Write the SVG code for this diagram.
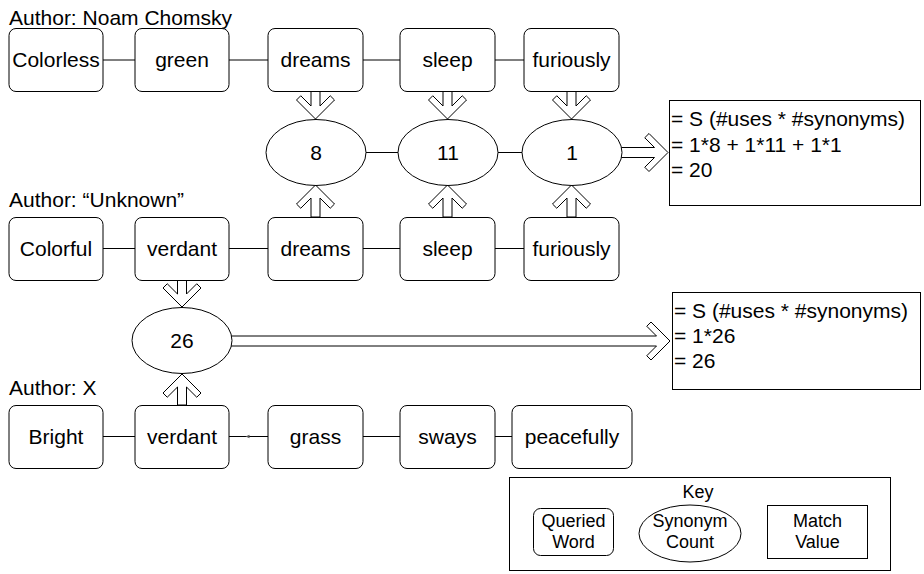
<svg xmlns="http://www.w3.org/2000/svg" width="924" height="574" viewBox="0 0 924 574">
  <style>
    text { font-family: "Liberation Sans", Arial, Helvetica, sans-serif; fill: #000; }
    .w { font-size: 21px; text-anchor: middle; }
    .lbl { font-size: 21px; }
    .k { font-size: 18px; text-anchor: middle; }
    .box { fill: #fff; stroke: #000; stroke-width: 1; }
    .ell { fill: #fff; stroke: #000; stroke-width: 1; }
    .line { stroke: #000; stroke-width: 1; fill: none; }
    .flex { fill: #fff; stroke: #000; stroke-width: 1; stroke-linejoin: miter; }
  </style>

  <!-- author captions -->
  <text class="lbl" x="9" y="25">Author: Noam Chomsky</text>
  <text class="lbl" x="9" y="207">Author: “Unknown”</text>
  <text class="lbl" x="9" y="395">Author: X</text>

  <g id="connectors">
    <!-- sentence 1 -->
    <line class="line" x1="103" y1="60" x2="135" y2="60"/>
    <line class="line" x1="229" y1="60" x2="268" y2="60"/>
    <line class="line" x1="363" y1="60" x2="400" y2="60"/>
    <line class="line" x1="495" y1="60" x2="524" y2="60"/>
    <!-- sentence 2 -->
    <line class="line" x1="103" y1="248.5" x2="135" y2="248.5"/>
    <line class="line" x1="229" y1="248.5" x2="268" y2="248.5"/>
    <line class="line" x1="363" y1="248.5" x2="400" y2="248.5"/>
    <line class="line" x1="495" y1="248.5" x2="524" y2="248.5"/>
    <!-- sentence 3 -->
    <line class="line" x1="103" y1="436.5" x2="135" y2="436.5"/>
    <line class="line" x1="229" y1="436.5" x2="268" y2="436.5"/>
    <polygon points="245.5,436.5 249.5,434.8 249.5,438.2" fill="#555" stroke="none"/>
    <line class="line" x1="363" y1="436.5" x2="400" y2="436.5"/>
    <line class="line" x1="495" y1="436.5" x2="512" y2="436.5"/>
    <!-- synonym counts chain -->
    <line class="line" x1="366" y1="152.5" x2="398" y2="152.5"/>
    <line class="line" x1="498" y1="152.5" x2="522" y2="152.5"/>

    <!-- block arrows: words into counts -->
    <polygon class="flex" points="311,91 311,106 300.76,95.76 296.5,100 315.5,119 334.5,100 330.24,95.76 320,106 320,91"/>
    <polygon class="flex" points="443,91 443,106 432.76,95.76 428.5,100 447.5,119 466.5,100 462.24,95.76 452,106 452,91"/>
    <polygon class="flex" points="567,91 567,106 556.76,95.76 552.5,100 571.5,119 590.5,100 586.24,95.76 576,106 576,91"/>
    <polygon class="flex" points="311,217 311,198 300.76,208.24 296.5,204 315.5,185 334.5,204 330.24,208.24 320,198 320,217"/>
    <polygon class="flex" points="443,217 443,198 432.76,208.24 428.5,204 447.5,185 466.5,204 462.24,208.24 452,198 452,217"/>
    <polygon class="flex" points="567,217 567,198 556.76,208.24 552.5,204 571.5,185 590.5,204 586.24,208.24 576,198 576,217"/>
    <polygon class="flex" points="177.5,280 177.5,294 167.24,283.76 163,288 182,307 201,288 196.76,283.76 186.5,294 186.5,280"/>
    <polygon class="flex" points="177.5,405 177.5,387 167.24,397.24 163,393 182,374 201,393 196.76,397.24 186.5,387 186.5,405"/>

    <!-- block arrows: counts into match values -->
    <polygon class="flex" points="618,147.5 654.5,147.5 644.76,137.74 649,133.5 668,152.5 649,171.5 644.76,167.26 654.5,157.5 618,157.5"/>
    <polygon class="flex" points="228,336 656.5,336 646.76,326.24 651,322 670,341 651,360 646.76,355.76 656.5,346 228,346"/>
  </g>

  <!-- sentence 1 words -->
  <g id="w-colorless"><rect class="box" x="9" y="28.5" width="94" height="63" rx="7"/><text class="w" x="56" y="67">Colorless</text></g>
  <g id="w-green"><rect class="box" x="135" y="28.5" width="94" height="63" rx="7"/><text class="w" x="182" y="67">green</text></g>
  <g id="w-dreams1"><rect class="box" x="268" y="28.5" width="95" height="63" rx="7"/><text class="w" x="315.5" y="67">dreams</text></g>
  <g id="w-sleep1"><rect class="box" x="400" y="28.5" width="95" height="63" rx="7"/><text class="w" x="447.5" y="67">sleep</text></g>
  <g id="w-furiously1"><rect class="box" x="524" y="28.5" width="95" height="63" rx="7"/><text class="w" x="571.5" y="67">furiously</text></g>

  <!-- synonym counts -->
  <g id="c-8"><ellipse class="ell" cx="316" cy="152.5" rx="50" ry="33"/><text class="w" x="316" y="160">8</text></g>
  <g id="c-11"><ellipse class="ell" cx="448" cy="152.5" rx="50" ry="33"/><text class="w" x="448" y="160">11</text></g>
  <g id="c-1"><ellipse class="ell" cx="572" cy="152.5" rx="50" ry="33"/><text class="w" x="572" y="160">1</text></g>
  <g id="c-26"><ellipse class="ell" cx="182" cy="340.5" rx="50" ry="33"/><text class="w" x="182" y="348">26</text></g>

  <!-- match values -->
  <g id="m-20">
    <rect class="box" x="669.5" y="100.5" width="251" height="105"/>
    <text class="lbl" x="671" y="126">= S (#uses * #synonyms)</text>
    <text class="lbl" x="671" y="152">= 1*8 + 1*11 + 1*1</text>
    <text class="lbl" x="671" y="177">= 20</text>
  </g>
  <g id="m-26">
    <rect class="box" x="672.5" y="292.5" width="248" height="97"/>
    <text class="lbl" x="674" y="318">= S (#uses * #synonyms)</text>
    <text class="lbl" x="674" y="343">= 1*26</text>
    <text class="lbl" x="674" y="368">= 26</text>
  </g>

  <!-- sentence 2 words -->
  <g id="w-colorful"><rect class="box" x="9" y="217.5" width="94" height="63" rx="7"/><text class="w" x="56" y="256">Colorful</text></g>
  <g id="w-verdant2"><rect class="box" x="135" y="217.5" width="94" height="63" rx="7"/><text class="w" x="182" y="256">verdant</text></g>
  <g id="w-dreams2"><rect class="box" x="268" y="217.5" width="95" height="63" rx="7"/><text class="w" x="315.5" y="256">dreams</text></g>
  <g id="w-sleep2"><rect class="box" x="400" y="217.5" width="95" height="63" rx="7"/><text class="w" x="447.5" y="256">sleep</text></g>
  <g id="w-furiously2"><rect class="box" x="524" y="217.5" width="95" height="63" rx="7"/><text class="w" x="571.5" y="256">furiously</text></g>

  <!-- sentence 3 words -->
  <g id="w-bright"><rect class="box" x="9" y="405.5" width="94" height="63" rx="7"/><text class="w" x="56" y="444">Bright</text></g>
  <g id="w-verdant3"><rect class="box" x="135" y="405.5" width="94" height="63" rx="7"/><text class="w" x="182" y="444">verdant</text></g>
  <g id="w-grass"><rect class="box" x="268" y="405.5" width="95" height="63" rx="7"/><text class="w" x="315.5" y="444">grass</text></g>
  <g id="w-sways"><rect class="box" x="400" y="405.5" width="95" height="63" rx="7"/><text class="w" x="447.5" y="444">sways</text></g>
  <g id="w-peacefully"><rect class="box" x="512" y="405.5" width="120" height="63" rx="7"/><text class="w" x="572" y="444">peacefully</text></g>

  <!-- legend -->
  <g id="key">
    <rect class="box" x="509.5" y="477.5" width="381" height="93"/>
    <text class="k" x="698" y="498">Key</text>
    <rect class="box" x="533.5" y="508.5" width="80" height="47" rx="7"/>
    <text class="k" x="573.5" y="527">Queried</text>
    <text class="k" x="573.5" y="548">Word</text>
    <ellipse class="ell" cx="690" cy="533.5" rx="51" ry="28.5"/>
    <text class="k" x="690" y="527">Synonym</text>
    <text class="k" x="690" y="548">Count</text>
    <rect class="box" x="767.5" y="505.5" width="100" height="53"/>
    <text class="k" x="817.5" y="527">Match</text>
    <text class="k" x="817.5" y="548">Value</text>
  </g>
</svg>
